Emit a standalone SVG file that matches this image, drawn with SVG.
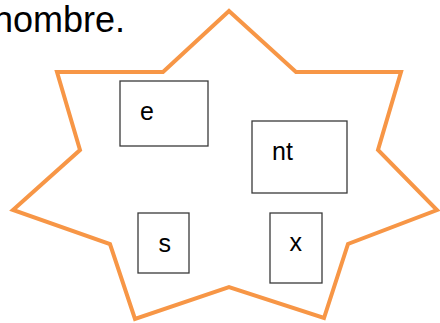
<svg xmlns="http://www.w3.org/2000/svg" width="440" height="323" viewBox="0 0 440 323">
<style>
.star{fill:none;stroke:#F79646;stroke-width:4;stroke-linejoin:miter}
.box{fill:#fff;stroke:#3a3a3a;stroke-width:1.3}
.lbl{font-family:"Liberation Sans",Arial,sans-serif;font-size:25px;fill:#000}
.title{font-family:"Liberation Sans",Arial,sans-serif;font-size:36px;fill:#000}
</style>
<rect width="440" height="323" fill="#fff"/>
<text class="title" x="125" y="32" text-anchor="end">nombre.</text>
<g id="star">
<polygon class="star" points="229,11 296,72 401,72 378,150 437,210 348,244 324,318 229,287 135,319 110,244 13,210 80,150 57,72 163,72"/>
</g>
<g id="node-e">
<rect class="box" x="120" y="81" width="88" height="65"/>
<text class="lbl" x="140" y="120">e</text>
</g>
<g id="node-nt">
<rect class="box" x="252" y="121" width="95" height="72"/>
<text class="lbl" x="272" y="160">nt</text>
</g>
<g id="node-s">
<rect class="box" x="138" y="213" width="51" height="60"/>
<text class="lbl" x="158.5" y="252">s</text>
</g>
<g id="node-x">
<rect class="box" x="270" y="213" width="52" height="70"/>
<text class="lbl" x="289.5" y="251">x</text>
</g>
<g id="connectors"></g>
</svg>
